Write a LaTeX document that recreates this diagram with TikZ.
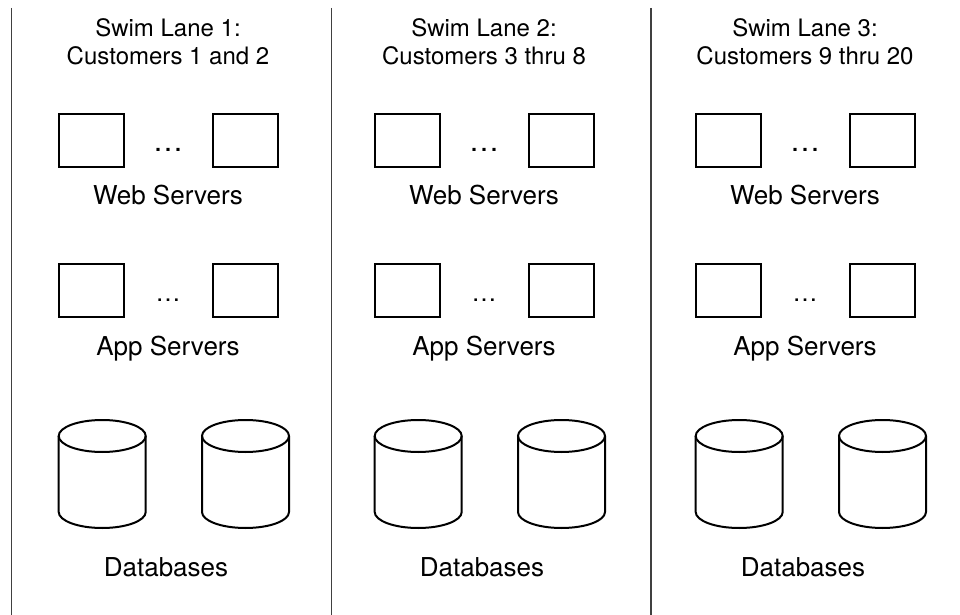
\documentclass[tikz,border=0pt]{standalone}
\usepackage{fontspec}
\setmainfont{TeX Gyre Heros}

\begin{document}
\begin{tikzpicture}[x=0.5pt,y=-0.5pt,
    server/.style={draw, line width=1pt, minimum width=32.5pt, minimum height=26.5pt, inner sep=0pt},
    dbline/.style={line width=1pt},
    tier/.style={anchor=base, inner sep=0pt, font=\fontsize{13}{15.6}\selectfont},
    lanehead/.style={anchor=base, inner sep=0pt, align=center, font=\fontsize{12}{14.2}\selectfont},
    more/.style={anchor=base, inner sep=0pt}]
  \useasboundingbox (0,0) rectangle (960,615);
  % lane separators
  \draw[line width=0.6pt, black!75] (11.5,8) -- (11.5,615);
  \draw[line width=0.6pt, black!75] (331.5,8) -- (331.5,615);
  \draw[line width=0.6pt, black!75] (651,8) -- (651,615);
  \foreach \n/\dx/\who in {1/0/{Customers 1 and 2}, 2/316/{Customers 3 thru 8}, 3/637/{Customers 9 thru 20}}{
    \node[lanehead] (head\n) at ({\dx+168},65) {Swim Lane \n:\\\who};
    % web tier
    \node[server] (web\n a) at ({\dx+91.3},140.3) {};
    \node[server] (web\n b) at ({\dx+245.5},140.3) {};
    \node[more, font=\fontsize{15}{18}\selectfont] (webdots\n) at ({\dx+168},152) {\dots};
    \node[tier] (weblabel\n) at ({\dx+168},205) {Web Servers};
    % app tier
    \node[server] (app\n a) at ({\dx+91.3},290.5) {};
    \node[server] (app\n b) at ({\dx+245.5},290.5) {};
    \node[more, font=\fontsize{12.5}{15}\selectfont] (appdots\n) at ({\dx+168},301.5) {\dots};
    \node[tier] (applabel\n) at ({\dx+168},356) {App Servers};
    % databases
    \foreach \cx in {102.2,245.5}{
      \draw[dbline] ({\dx+\cx-43.5},436) -- ({\dx+\cx-43.5},512)
        arc[start angle=180, end angle=0, x radius=43.5, y radius=16] -- ({\dx+\cx+43.5},436);
      \draw[dbline] ({\dx+\cx},436) ellipse[x radius=43.5, y radius=16];
    }
    \node[tier] (dblabel\n) at ({\dx+166},576.7) {Databases};
  }
\end{tikzpicture}
\end{document}
